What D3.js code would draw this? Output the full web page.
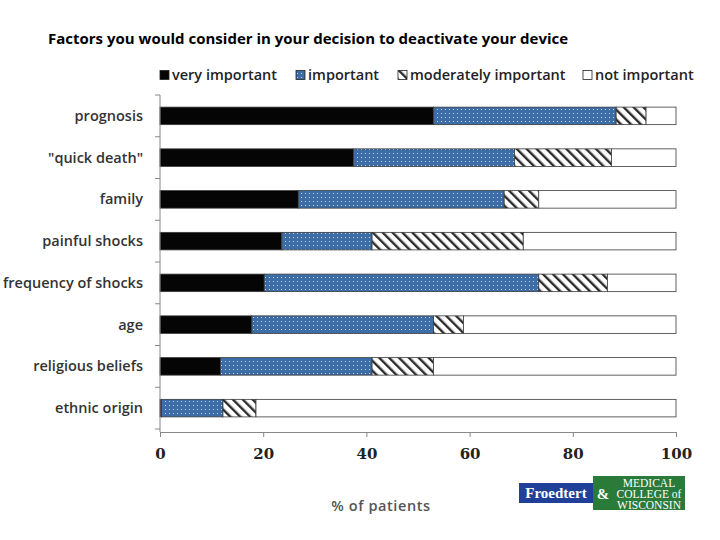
<!DOCTYPE html>
<html><head><meta charset="utf-8">
<script src="https://cdn.jsdelivr.net/npm/d3@7"></script>
<style>body{margin:0;background:#fff;} svg{display:block;}</style>
</head><body>
<svg id="c" width="720" height="540"></svg>
<script>
const categories = ["prognosis", "\"quick death\"", "family", "painful shocks", "frequency of shocks", "age", "religious beliefs", "ethnic origin"];
const seriesNames = ["very important", "important", "moderately important", "not important"];
const veryImportant = [53.0, 37.5, 26.8, 23.6, 20.2, 17.8, 11.7, 0.3];
const important     = [35.4, 31.2, 39.9, 17.5, 53.2, 35.2, 29.4, 11.9];
const moderately    = [5.8, 18.8, 6.7, 29.3, 13.3, 5.8, 11.9, 6.4];
const notImportant  = [5.8, 12.5, 26.6, 29.6, 13.3, 41.2, 47.0, 81.4];
const xTicks = [0, 20, 40, 60, 80, 100];
const titleText = "Factors you would consider in your decision to deactivate your device";
const xTitle = "% of patients";

const svg = d3.select("#c");
const defs = svg.append("defs");
const dots = defs.append("pattern").attr("id","dots").attr("patternUnits","userSpaceOnUse").attr("width",4).attr("height",4);
dots.append("rect").attr("width",4).attr("height",4).attr("fill","#3D6DA6");
dots.append("rect").attr("x",1).attr("y",1).attr("width",1).attr("height",1).attr("fill","#c3d3ea");
const hatch = defs.append("pattern").attr("id","hatch").attr("patternUnits","userSpaceOnUse").attr("width",7).attr("height",7).attr("patternTransform","rotate(-45)");
hatch.append("rect").attr("width",7).attr("height",7).attr("fill","#fff");
hatch.append("rect").attr("x",0).attr("y",0).attr("width",2.4).attr("height",7).attr("fill","#2b2b2b");

const fills = ["#050505", "url(#dots)", "url(#hatch)", "#ffffff"];

svg.append("text").attr("x",48).attr("y",44).attr("font-family","Open Sans").attr("font-weight",700).attr("font-size",15).attr("fill","#000").text(titleText);

const x = d3.scaleLinear().domain([0,100]).range([160,676]);
const y = d3.scaleBand().domain(categories).range([95,429]).paddingInner(0.58).paddingOuter(0.29);

const table = categories.map((c,i)=>({cat:c, "very important":veryImportant[i], "important":important[i], "moderately important":moderately[i], "not important":notImportant[i]}));
const stack = d3.stack().keys(seriesNames)(table);

const g = svg.append("g");
stack.forEach((s,si)=>{
  g.selectAll(null).data(s).enter().append("rect")
    .attr("x",d=>x(d[0])).attr("y",d=>y(d.data.cat))
    .attr("width",d=>Math.max(0,x(d[1])-x(d[0]))).attr("height",y.bandwidth())
    .attr("fill",fills[si]).attr("stroke","#3a3a3a").attr("stroke-width",0.8);
});

// y axis
svg.append("line").attr("x1",160).attr("x2",160).attr("y1",95).attr("y2",432).attr("stroke","#888").attr("stroke-width",1);
const yTickPos = d3.range(categories.length+1).map(i=>95+i*(334/categories.length));
svg.selectAll(null).data(yTickPos).enter().append("line").attr("x1",155).attr("x2",160).attr("y1",d=>d).attr("y2",d=>d).attr("stroke","#888");
svg.selectAll(null).data(categories).enter().append("text")
  .attr("x",143).attr("y",d=>y(d)+y.bandwidth()/2+5).attr("text-anchor","end")
  .attr("font-family","Open Sans").attr("font-weight",600).attr("font-size",14.5).attr("fill","#333").text(d=>d);

// x axis
const xa = svg.append("g").attr("transform","translate(0,432)").call(d3.axisBottom(x).tickValues(xTicks).tickSize(5).tickFormat(d3.format("d")));
xa.select(".domain").attr("stroke","#888");
xa.selectAll(".tick line").attr("stroke","#888");
xa.selectAll("text").attr("font-family","DejaVu Serif").attr("font-weight",700).attr("font-size",15).attr("fill","#222").attr("dy","1.25em");
svg.append("text").attr("x",381).attr("y",511).attr("text-anchor","middle").attr("font-family","Open Sans").attr("font-weight",600).attr("font-size",14.5).attr("letter-spacing",0.6).attr("fill","#555").text(xTitle);

// legend
const legX = [160, 296, 398, 583];
const leg = svg.append("g");
seriesNames.forEach((n,i)=>{
  leg.append("rect").attr("x",legX[i]).attr("y",70.5).attr("width",9).attr("height",9).attr("fill",fills[i]).attr("stroke","#222").attr("stroke-width",0.8);
  leg.append("text").attr("x",legX[i]+12).attr("y",80).attr("font-family","Open Sans").attr("font-weight",600).attr("font-size",14.5).attr("fill","#222").text(n);
});

// logo
const logo = svg.append("g");
logo.append("rect").attr("x",519).attr("y",483).attr("width",74).attr("height",20).attr("fill","#1f3f99");
logo.append("text").attr("x",556).attr("y",498).attr("text-anchor","middle").attr("font-family","Liberation Serif").attr("font-weight",700).attr("font-size",15).attr("fill","#fff").text("Froedtert");
logo.append("rect").attr("x",593).attr("y",476).attr("width",92).attr("height",34).attr("fill","#2a7a3a");
logo.append("text").attr("x",603).attr("y",499).attr("text-anchor","middle").attr("font-family","Liberation Serif").attr("font-weight",700).attr("font-size",15).attr("fill","#fff").text("&");
[["MEDICAL",487,11.5],["COLLEGE of",498,11.5],["WISCONSIN",509,11.5]].forEach(([t,yy,fs])=>{
  logo.append("text").attr("x",649).attr("y",yy).attr("text-anchor","middle").attr("font-family","Liberation Serif").attr("font-size",fs).attr("fill","#fff").text(t);
});
</script>
</body></html>
